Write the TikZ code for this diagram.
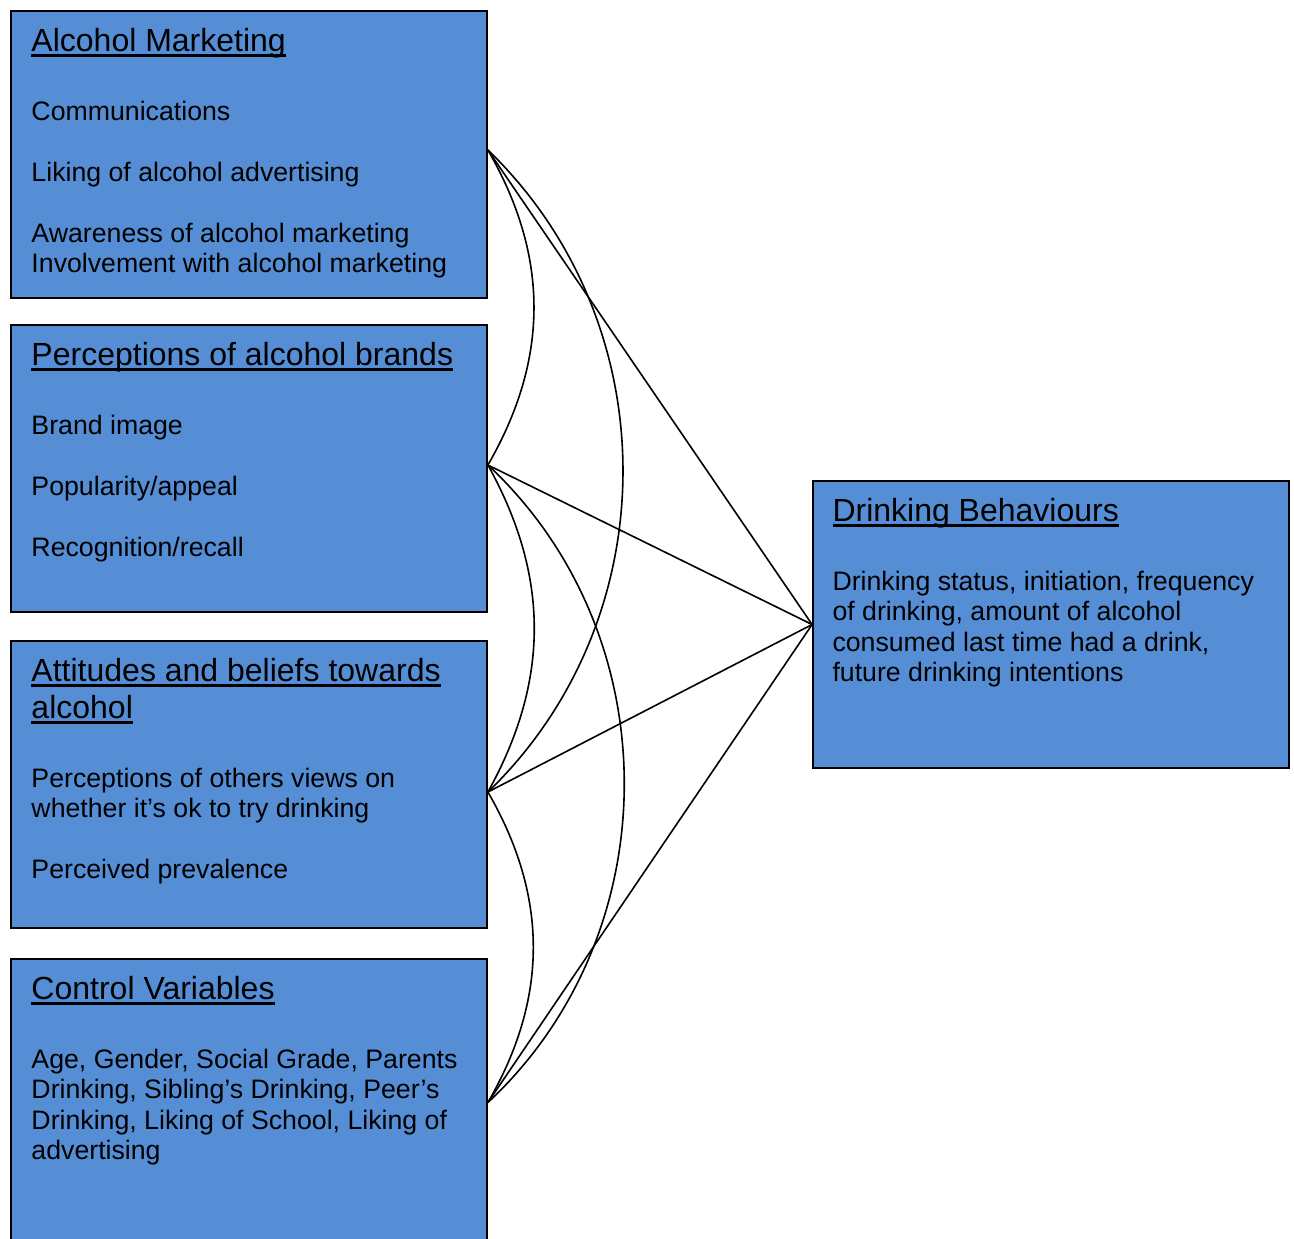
\documentclass[tikz,border=0pt]{standalone}
\usepackage{fontspec}
\setmainfont{Liberation Sans}

\definecolor{boxblue}{RGB}{85,142,213}

% underlined heading with a heavier rule
\newcommand\boxtitle[1]{\leavevmode\setbox0\hbox{#1}\rlap{\rule[-2.35pt]{\wd0}{1.3pt}}\box0}
\newcommand\titlesize{\fontsize{16}{18.5}\selectfont}
\newcommand\bodysize{\fontsize{13.35}{15.25}\selectfont}
% heading paragraph followed by the body paragraph
\newcommand\boxtext[2]{\parbox[t]{235pt}{\raggedright\titlesize #1\par\vspace{19pt}\bodysize #2\par}}

\begin{document}
\begin{tikzpicture}[x=0.5pt, y=-0.5pt,
  box/.style={draw=black, line width=0.9pt, fill=boxblue, minimum width=238pt,
              minimum height=143.5pt, inner sep=0pt},
  txt/.style={inner sep=0pt, anchor=base west, text=black},
  link/.style={draw=black, line width=0.8pt}]

\useasboundingbox (0,0) rectangle (1294,1238);

% boxes
\node[box] (am) at (249,154.5) {};
\node[box] (pb) at (249,468.5) {};
\node[box] (ab) at (249,784.5) {};
\node[box] (cv) at (249,1102.5) {};
\node[box] (db) at (1051,624.5) {};

% box texts
\node[txt] (amtext) at ([shift={(10.5pt,-20.9pt)}]am.north west)
  {\boxtext{\boxtitle{Alcohol Marketing}}
   {Communications\\[15.25pt]
    Liking of alcohol advertising\\[15.25pt]
    Awareness of alcohol marketing\\
    Involvement with alcohol marketing}};

\node[txt] (pbtext) at ([shift={(10.5pt,-20.9pt)}]pb.north west)
  {\boxtext{\boxtitle{Perceptions of alcohol brands}}
   {Brand image\\[15.25pt]
    Popularity/appeal\\[15.25pt]
    Recognition/recall}};

\node[txt] (abtext) at ([shift={(10.5pt,-20.9pt)}]ab.north west)
  {\boxtext{\boxtitle{Attitudes and beliefs towards}\\\boxtitle{alcohol}}
   {Perceptions of others views on\\
    whether it’s ok to try drinking\\[15.25pt]
    Perceived prevalence}};

\node[txt] (cvtext) at ([shift={(10.5pt,-20.9pt)}]cv.north west)
  {\boxtext{\boxtitle{Control Variables}}
   {Age, Gender, Social Grade, Parents\\
    Drinking, Sibling’s Drinking, Peer’s\\
    Drinking, Liking of School, Liking of\\
    advertising}};

\node[txt] (dbtext) at ([shift={(10pt,-20.9pt)}]db.north west)
  {\boxtext{\boxtitle{Drinking Behaviours}}
   {Drinking status, initiation, frequency\\
    of drinking, amount of alcohol\\
    consumed last time had a drink,\\
    future drinking intentions}};

% arcs between the predictor boxes
\draw[link] ([yshift=2.25pt]am.east) to[bend left=30] ([yshift=1.75pt]pb.east);
\draw[link] ([yshift=2.25pt]am.east) to[bend left=46] ([yshift=-3.75pt]ab.east);
\draw[link] ([yshift=1.75pt]pb.east) to[bend left=29] ([yshift=-3.75pt]ab.east);
\draw[link] ([yshift=1.75pt]pb.east) to[bend left=47] (cv.east);
\draw[link] ([yshift=-3.75pt]ab.east) to[bend left=30] (cv.east);

% straight links to the outcome box
\draw[link] ([yshift=2.25pt]am.east) -- (db.west);
\draw[link] ([yshift=1.75pt]pb.east) -- (db.west);
\draw[link] ([yshift=-3.75pt]ab.east) -- (db.west);
\draw[link] (cv.east) -- (db.west);
\end{tikzpicture}
\end{document}
